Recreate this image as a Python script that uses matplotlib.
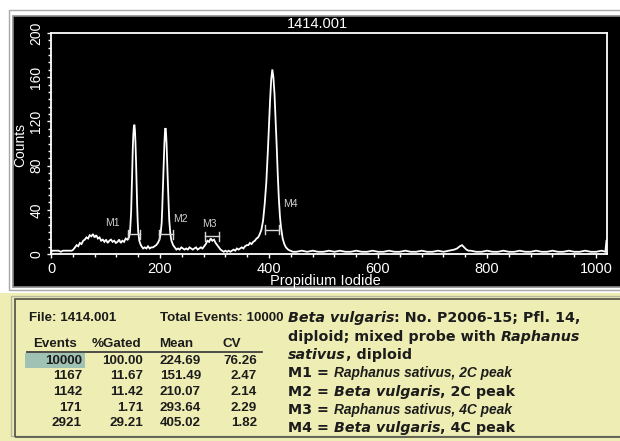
import matplotlib
matplotlib.use("Agg")
import matplotlib.pyplot as plt
from matplotlib.patches import Rectangle
from matplotlib.font_manager import FontProperties
from matplotlib.ticker import MultipleLocator, AutoMinorLocator

W, H = 620, 441

# histogram trace (channel, counts)
channel = [0, 2, 6, 10, 14, 18, 22, 26, 30, 34, 38, 41,
           44, 47, 50, 53, 56, 59, 62, 65, 68, 71, 74, 77, 80, 83, 86, 89, 92, 95,
           98, 101, 104, 107, 110, 113, 116, 119, 122, 125, 128, 131, 134, 137, 140,
           143, 145, 147, 148, 149, 150, 151, 152, 153, 154, 155, 156, 157, 158, 159,
           160, 162, 164, 166, 169, 172, 175, 178, 181, 184, 187, 190, 193, 196, 199,
           201, 203, 204, 205, 206, 207, 208, 209, 210, 211, 212, 213, 214, 215, 216,
           217, 219, 221, 224, 227, 230, 233, 236, 239, 242, 245, 248, 251, 254, 257,
           260, 263, 266, 269, 272, 275, 278, 281, 284, 287, 290, 293, 296, 299, 302,
           305, 308, 311, 314, 317, 320, 323, 326, 329, 332, 335, 338, 341, 344, 347,
           350, 353, 356, 359, 362, 365, 368, 371, 374, 377, 380, 383, 386, 389, 392,
           395, 398, 400, 402, 404, 406, 408, 410, 412, 414, 416, 418, 420, 422, 425,
           428, 431, 435, 439, 444, 450, 460, 470, 480, 490, 500, 510, 520, 530, 540,
           550, 560, 570, 580, 590, 600, 610, 620, 630, 640, 650, 660, 670, 680, 690,
           700, 710, 720, 730, 740, 745, 750, 754, 758, 762, 766, 770, 780, 790, 800,
           810, 820, 830, 840, 850, 860, 870, 880, 890, 900, 910, 920, 930, 940, 950,
           960, 970, 980, 990, 1000, 1010, 1017, 1019]
counts = [1, 3, 3, 3, 3, 2, 3, 3, 3, 3, 3, 4,
          6, 8, 7, 10, 9, 12, 13, 15, 14, 17, 16, 18, 15, 17, 14, 15, 12, 13,
          11, 13, 10, 12, 13, 11, 12, 10, 11, 13, 10, 12, 11, 14, 13,
          15, 20, 38, 55, 75, 95, 108, 115, 117, 112, 100, 84, 64, 45, 30,
          20, 12, 9, 7, 5, 6, 5, 7, 5, 6, 6, 7, 8, 10, 13,
          18, 28, 40, 55, 70, 85, 100, 110, 114, 110, 100, 86, 70, 55, 42,
          30, 18, 12, 8, 6, 4, 5, 4, 6, 5, 4, 5, 4, 6, 5,
          4, 5, 6, 4, 5, 6, 5, 7, 9, 12, 11, 14, 12, 13, 10,
          8, 6, 4, 3, 2, 3, 2, 3, 2, 3, 4, 3, 5, 4, 5,
          6, 5, 7, 8, 8, 10, 9, 11, 12, 14, 15, 18, 22, 30, 45,
          65, 95, 118, 140, 158, 167, 160, 145, 122, 98, 72, 50, 34, 24, 14,
          9, 6, 4, 3, 2, 2, 3, 2, 3, 2, 2, 3, 2, 3, 2,
          2, 3, 2, 2, 3, 2, 2, 3, 2, 2, 3, 2, 2, 3, 2,
          2, 3, 2, 3, 4, 5, 7, 8, 6, 4, 3, 3, 2, 2, 3,
          2, 2, 3, 2, 2, 3, 2, 2, 3, 2, 2, 3, 2, 2, 3,
          2, 2, 3, 2, 2, 3, 2, 12]

marker_names = ["M1", "M2", "M3", "M4"]
marker_lo = [141, 198, 282, 392]
marker_hi = [163, 223, 308, 419]
marker_level = [18, 18, 16, 22]

sample_file = "1414.001"
total_events = 10000
table_cols = ["Events", "%Gated", "Mean", "CV"]
events = [10000, 1167, 1142, 171, 2921]
gated = [100.00, 11.67, 11.42, 1.71, 29.21]
means = [224.69, 151.49, 210.07, 293.64, 405.02]
cvs = [76.26, 2.47, 2.14, 2.29, 1.82]

# description lines: (text, style)
desc_lines = [
    [("Beta vulgaris", "bi"), (": No. P2006-15; Pfl. 14,", "b")],
    [("diploid; mixed probe with ", "b"), ("Raphanus", "bi")],
    [("sativus", "bi"), (", diploid", "b")],
    [("M1 = ", "b"), ("Raphanus sativus, 2C peak", "n")],
    [("M2 = ", "b"), ("Beta vulgaris", "bi"), (", 2C peak", "b")],
    [("M3 = ", "b"), ("Raphanus sativus, 4C peak", "n")],
    [("M4 = ", "b"), ("Beta vulgaris", "bi"), (", 4C peak", "b")],
]

narrow = ["Liberation Sans Narrow", "Liberation Sans"]


def fx(x):
    return x / W


def fy(y):
    return 1 - y / H


fig = plt.figure(figsize=(W / 100, H / 100), dpi=100)
fig.patch.set_facecolor("white")

# top black panel with its frame
fig.patches.append(Rectangle((fx(9), fy(290)), fx(620), 280 / H, transform=fig.transFigure,
                             facecolor="white", edgecolor="#a8a8a8", lw=1.0, zorder=-3))
fig.patches.append(Rectangle((fx(13), fy(287)), fx(615), 271 / H, transform=fig.transFigure,
                             facecolor="black", edgecolor="#8c8c8c", lw=1.2, zorder=-2))
# yellow info panel
fig.patches.append(Rectangle((0, 0), 1, fy(293), transform=fig.transFigure,
                             facecolor="#eeeeb4", edgecolor="none", zorder=-3))
fig.patches.append(Rectangle((fx(11), fy(436)), fx(620), 140 / H, transform=fig.transFigure,
                             facecolor="none", edgecolor="#b8b8a0", lw=1.0, zorder=-2))
fig.patches.append(Rectangle((fx(15), fy(437)), fx(620), 138 / H, transform=fig.transFigure,
                             facecolor="none", edgecolor="#5a5a50", lw=1.3, zorder=-2))

ax = fig.add_axes([fx(51), fy(254), 556 / W, 221 / H])
ax.set_facecolor("none")
ax.plot(channel, counts, color="white", lw=1.3, solid_joinstyle="miter")

for name, lo, hi, lev in zip(marker_names, marker_lo, marker_hi, marker_level):
    ax.plot([lo, hi], [lev, lev], color="#d8d8d8", lw=1.0)
    ax.plot([lo, lo], [lev - 4, lev + 4], color="#d8d8d8", lw=1.0)
    ax.plot([hi, hi], [lev - 4, lev + 4], color="#d8d8d8", lw=1.0)

label_pos = [(113, 28), (238, 32), (291, 27), (440, 45)]
for name, (lx, ly) in zip(marker_names, label_pos):
    ax.text(lx, ly, name, color="#d0d0d0", fontsize=7.5, ha="center", va="center",
            family=narrow)

ax.set_xlim(0, 1020)
ax.set_ylim(0, 200)
for sp in ax.spines.values():
    sp.set_color("white")
    sp.set_linewidth(1.3)

ax.xaxis.set_major_locator(MultipleLocator(200))
ax.xaxis.set_minor_locator(MultipleLocator(40))
ax.yaxis.set_major_locator(MultipleLocator(40))
ax.yaxis.set_minor_locator(AutoMinorLocator(6))
ax.tick_params(which="both", colors="white", direction="out")
ax.tick_params(which="major", length=3, width=1.0, pad=2.5)
ax.tick_params(which="minor", length=2, width=1.0)
for lab in ax.get_xticklabels():
    lab.set_family(narrow)
    lab.set_fontsize(10.5)
ax.set_yticks(ax.get_yticks())
ax.set_yticklabels([f"{int(v)}" for v in ax.get_yticks()], rotation=90, va="center",
                   family=narrow, fontsize=10)
ax.set_ylim(0, 200)

fig.text(fx(20), fy(145), "Counts", rotation=90, color="white", ha="center", va="center",
         family=narrow, fontsize=10)
fig.text(fx(325), fy(281), "Propidium Iodide", color="white", ha="center", va="center",
         family=narrow, fontsize=10.5)
fig.text(fx(317), fy(24), sample_file, color="white", ha="center", va="center",
         family=narrow, fontsize=10.5)

# statistics table
tkw = dict(family="Liberation Sans", weight="bold", fontsize=9.6, color="#1c1c1c", va="center")
fig.text(fx(29), fy(318), f"File: {sample_file}", ha="left", **tkw)
fig.text(fx(160), fy(318), f"Total Events: {total_events}", ha="left", **tkw)
head_x = [55, 116, 176, 232]
for hx, col in zip(head_x, table_cols):
    fig.text(fx(hx), fy(344), col, ha="center", **tkw)
fig.lines.append(plt.Line2D([fx(27), fx(262)], [fy(352), fy(352)], transform=fig.transFigure,
                            color="#404040", lw=1.3))
fig.patches.append(Rectangle((fx(25), fy(368)), 60 / W, 15 / H, transform=fig.transFigure,
                             facecolor="#9fc2b4", edgecolor="none", zorder=-1))
row_y = [361, 376, 392, 408, 423]
col_right = [82, 143, 201, 257]
for ry, ev, g, m, cv in zip(row_y, events, gated, means, cvs):
    vals = [f"{ev}", f"{g:.2f}", f"{m:.2f}", f"{cv:.2f}"]
    for cx, v in zip(col_right, vals):
        fig.text(fx(cx), fy(ry), v, ha="right", **tkw)

# description text with mixed fonts
styles = {
    "b": FontProperties(family="DejaVu Sans", weight="bold", size=10.3),
    "bi": FontProperties(family="DejaVu Sans", weight="bold", style="italic", size=10.3),
    "n": FontProperties(family="Liberation Sans", weight="bold", style="italic", size=9.9),
}
renderer = fig.canvas.get_renderer()


def text_w(s, fp):
    return renderer.get_text_width_height_descent(s, fp, ismath=False)[0]


space_w = {k: text_w("a a", fp) - text_w("aa", fp) for k, fp in styles.items()}

line_y = [318, 337, 355, 373, 392, 410, 428]
for ly, parts in zip(line_y, desc_lines):
    x = 288
    for s, kind in parts:
        fp = styles[kind]
        lead = len(s) - len(s.lstrip(" "))
        trail = len(s) - len(s.rstrip(" "))
        core = s.strip(" ")
        x += lead * space_w[kind]
        fig.text(fx(x), fy(ly + 4), core, fontproperties=fp, color="#1c1c1c",
                 ha="left", va="baseline")
        x += text_w(core, fp) + trail * space_w[kind]

fig.savefig("out.png", dpi=100, facecolor=fig.get_facecolor())
